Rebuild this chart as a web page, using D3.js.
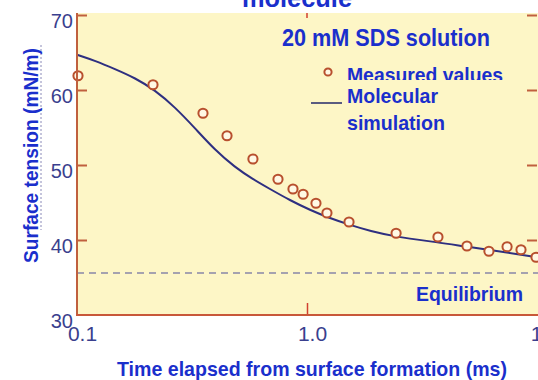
<!DOCTYPE html>
<html>
<head>
<meta charset="utf-8">
<script src="https://cdn.jsdelivr.net/npm/d3@7"></script>
<style>
  body { margin: 0; background: #fff; }
  svg { display: block; font-family: "Liberation Sans", Arial, sans-serif; }
</style>
</head>
<body>
<svg id="chart" width="538" height="380"></svg>
<script>
// measured surface tension (mN/m) vs time (ms)
const measuredTime = [0.101, 0.214, 0.353, 0.449, 0.582, 0.748, 0.869, 0.962, 1.094, 1.221, 1.523, 2.44, 3.71, 4.96, 6.18, 7.41, 8.52, 9.9];
const measuredTension = [61.9, 60.7, 56.9, 53.9, 50.8, 48.1, 46.8, 46.1, 44.9, 43.6, 42.4, 40.9, 40.4, 39.2, 38.5, 39.1, 38.7, 37.7];

// molecular simulation curve
const simTime = [0.1, 0.12, 0.146, 0.179, 0.218, 0.267, 0.326, 0.398, 0.486, 0.582, 0.69, 0.843, 1.03, 1.26, 1.54, 1.88, 2.44, 3.71, 4.96, 6.18, 10];
const simTension = [64.7, 63.9, 62.8, 61.6, 60.0, 57.7, 54.9, 52.0, 49.7, 48.1, 46.8, 45.3, 44.0, 42.9, 42.0, 41.2, 40.4, 39.7, 39.1, 38.7, 37.7];

const equilibrium = 35.6;

const yTicks = [30, 40, 50, 60, 70];
const xTicks = [0.1, 1, 10];
const xTickLabels = ['0.1', '1.0', '10'];

const svg = d3.select('#chart');

const x = d3.scaleLog().domain([0.1, 10]).range([77, 537]);
const y = d3.scaleLinear().domain([30, 70]).range([315, 15]);

const blue = '#1a2fcc';
const brown = '#c0603e';

// plot background
svg.append('rect')
  .attr('x', x(0.1)).attr('y', 13)
  .attr('width', 538 - x(0.1)).attr('height', y(30) - 13)
  .attr('fill', '#fdf6c6');

// stray dotted line next to y label
svg.append('line')
  .attr('x1', 41).attr('x2', 41).attr('y1', 45).attr('y2', 230)
  .attr('stroke', '#8a8ab8').attr('stroke-width', 1)
  .attr('stroke-dasharray', '2,2');

// Y axis ticks + labels
const yAxis = svg.append('g')
  .attr('transform', `translate(${x(0.1)},0)`)
  .call(d3.axisLeft(y).tickValues(yTicks).tickSize(-10).tickPadding(4).tickFormat(d3.format('d')));
yAxis.select('.domain').remove();
yAxis.selectAll('line').attr('stroke', brown).attr('stroke-width', 2)
  .filter(d => d === 30).remove();
yAxis.selectAll('text')
  .attr('fill', '#3a3f8e').attr('font-size', 20)
  .attr('dy', '0.6em').attr('font-family', '"Liberation Sans", Arial, sans-serif');

// right side ticks
const yRight = svg.append('g')
  .attr('transform', 'translate(537,0)')
  .call(d3.axisRight(y).tickValues(yTicks.slice(1)).tickSize(-10).tickFormat(''));
yRight.select('.domain').remove();
yRight.selectAll('line').attr('stroke', brown).attr('stroke-width', 2);

// X axis ticks + labels
const xAxis = svg.append('g')
  .attr('transform', `translate(0,${y(30)})`)
  .call(d3.axisBottom(x).tickValues(xTicks).tickSize(-12).tickFormat((d, i) => xTickLabels[i]));
xAxis.select('.domain').remove();
xAxis.selectAll('line').attr('stroke', '#d04030').attr('stroke-width', 1.5)
  .filter(d => d !== 1).remove();
xAxis.selectAll('text')
  .attr('fill', '#3a3f8e').attr('font-size', 21)
  .attr('y', 26).attr('dy', 0).attr('dx', 5)
  .attr('font-family', '"Liberation Sans", Arial, sans-serif');

// top tick at 1.0
svg.append('line')
  .attr('x1', x(1)).attr('x2', x(1)).attr('y1', 13).attr('y2', 18)
  .attr('stroke', '#d04030').attr('stroke-width', 1.5);

// equilibrium dashed line
svg.append('line')
  .attr('x1', x(0.1)).attr('x2', 538)
  .attr('y1', y(equilibrium)).attr('y2', y(equilibrium))
  .attr('stroke', '#8886a8').attr('stroke-width', 1.6)
  .attr('stroke-dasharray', '7,5');

// simulation line
const line = d3.line()
  .x(d => x(d[0]))
  .y(d => y(d[1]))
  .curve(d3.curveBasis);

svg.append('path')
  .datum(d3.zip(simTime, simTension))
  .attr('fill', 'none')
  .attr('stroke', '#2e2f80')
  .attr('stroke-width', 2)
  .attr('d', line);

// measured points
svg.selectAll('.dot')
  .data(d3.zip(measuredTime, measuredTension))
  .enter().append('circle')
  .attr('class', 'dot')
  .attr('cx', d => x(d[0]))
  .attr('cy', d => y(d[1]))
  .attr('r', 4.6)
  .attr('fill', '#fff8e4')
  .attr('stroke', '#b8502e')
  .attr('stroke-width', 2);

// axis lines
svg.append('line')
  .attr('x1', x(0.1)).attr('x2', x(0.1)).attr('y1', 13).attr('y2', y(30))
  .attr('stroke', brown).attr('stroke-width', 2);
svg.append('line')
  .attr('x1', x(0.1) - 1).attr('x2', 538).attr('y1', y(30)).attr('y2', y(30))
  .attr('stroke', '#c8583a').attr('stroke-width', 2);

// white band at top, with cut-off title
svg.append('rect').attr('x', 0).attr('y', 0).attr('width', 538).attr('height', 13).attr('fill', '#fff');
svg.append('text')
  .attr('x', 242).attr('y', 7)
  .attr('font-size', 26).attr('font-weight', 'bold').attr('fill', blue)
  .attr('textLength', 110).attr('lengthAdjust', 'spacingAndGlyphs')
  .text('molecule');

// annotations
svg.append('text')
  .attr('x', 282).attr('y', 46)
  .attr('font-size', 24).attr('font-weight', 'bold').attr('fill', blue)
  .attr('textLength', 208).attr('lengthAdjust', 'spacingAndGlyphs')
  .text('20 mM SDS solution');

svg.append('text')
  .attr('x', 416).attr('y', 301)
  .attr('font-size', 21).attr('font-weight', 'bold').attr('fill', blue)
  .attr('textLength', 107).attr('lengthAdjust', 'spacingAndGlyphs')
  .text('Equilibrium');

// legend
svg.append('clipPath').attr('id', 'legclip')
  .append('rect').attr('x', 0).attr('y', 0).attr('width', 538).attr('height', 80);

svg.append('circle')
  .attr('cx', 328).attr('cy', 72).attr('r', 3.6)
  .attr('fill', '#fff8e4').attr('stroke', '#b8502e').attr('stroke-width', 2);
svg.append('text')
  .attr('x', 347).attr('y', 82)
  .attr('clip-path', 'url(#legclip)')
  .attr('font-size', 21).attr('font-weight', 'bold').attr('fill', blue)
  .attr('textLength', 156).attr('lengthAdjust', 'spacingAndGlyphs')
  .text('Measured values');

svg.append('line')
  .attr('x1', 311).attr('x2', 342).attr('y1', 103).attr('y2', 103)
  .attr('stroke', '#5a5c80').attr('stroke-width', 2);
svg.append('text')
  .attr('x', 347).attr('y', 103)
  .attr('font-size', 21).attr('font-weight', 'bold').attr('fill', blue)
  .attr('textLength', 91).attr('lengthAdjust', 'spacingAndGlyphs')
  .text('Molecular');
svg.append('text')
  .attr('x', 347).attr('y', 130)
  .attr('font-size', 21).attr('font-weight', 'bold').attr('fill', blue)
  .attr('textLength', 98).attr('lengthAdjust', 'spacingAndGlyphs')
  .text('simulation');

// axis titles
svg.append('text')
  .attr('transform', 'translate(38,155.5) rotate(-90)')
  .attr('text-anchor', 'middle')
  .attr('font-size', 21).attr('font-weight', 'bold').attr('fill', blue)
  .attr('textLength', 215).attr('lengthAdjust', 'spacingAndGlyphs')
  .text('Surface tension (mN/m)');

svg.append('text')
  .attr('x', 117).attr('y', 376)
  .attr('font-size', 21).attr('font-weight', 'bold').attr('fill', blue)
  .attr('textLength', 390).attr('lengthAdjust', 'spacingAndGlyphs')
  .text('Time elapsed from surface formation (ms)');
</script>
</body>
</html>
